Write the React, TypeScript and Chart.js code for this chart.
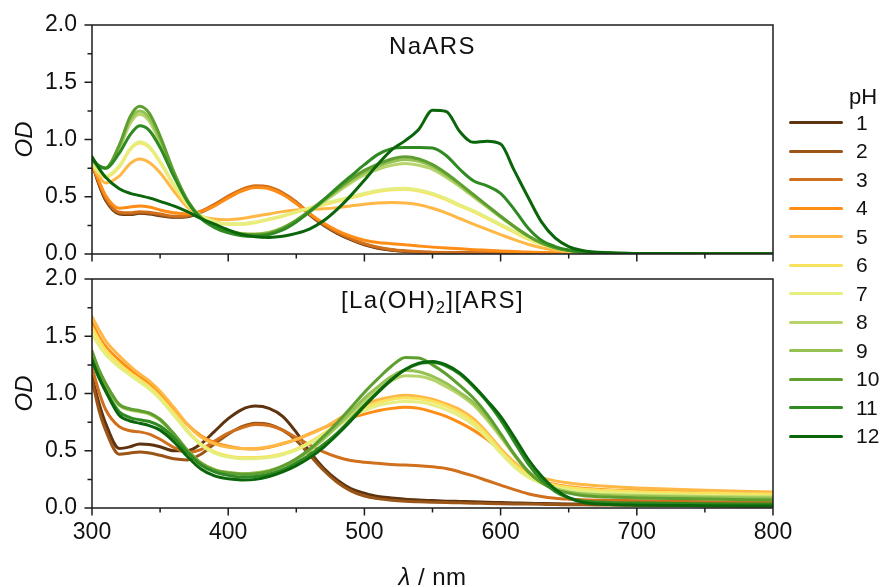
import React, { useEffect, useRef } from 'react';
import { Chart, registerables } from 'chart.js';

Chart.register(...registerables);

// ---------- data ----------
const WAVELENGTHS = [300, 305, 310, 320, 328, 335, 342, 350, 360, 370, 380, 390, 400, 410, 420, 430, 440, 450, 460, 470, 480, 490, 500, 510, 520, 530, 540, 550, 560, 570, 580, 590, 600, 610, 620, 630, 640, 650, 660, 680, 700, 750, 800];

const PH_LABELS = ['1', '2', '3', '4', '5', '6', '7', '8', '9', '10', '11', '12'];
const PH_COLORS = ['#5e3410', '#9b5517', '#d06f1c', '#ff8c14', '#ffb845', '#f9e35e', '#e5ee7e', '#b7d46b', '#96c153', '#5f9e30', '#2f8a22', '#0b650b'];

const X_TICKS_MAJOR = 100;
const Y_TICKS_MAJOR = 0.5;

// NaARS panel
const NAARS_PH1 = [0.79, 0.61, 0.47, 0.35, 0.345, 0.355, 0.35, 0.335, 0.32, 0.325, 0.365, 0.425, 0.495, 0.555, 0.585, 0.575, 0.525, 0.445, 0.34, 0.25, 0.18, 0.125, 0.08, 0.05, 0.032, 0.022, 0.016, 0.012, 0.01, 0.009, 0.008, 0.007, 0.006, 0.006, 0.005, 0.005, 0.005, 0.004, 0.004, 0.004, 0.003, 0.003, 0.003];
const NAARS_PH2 = [0.8, 0.62, 0.48, 0.355, 0.35, 0.36, 0.355, 0.34, 0.325, 0.33, 0.37, 0.43, 0.5, 0.56, 0.59, 0.58, 0.53, 0.45, 0.345, 0.255, 0.185, 0.13, 0.085, 0.055, 0.035, 0.024, 0.018, 0.014, 0.011, 0.01, 0.009, 0.008, 0.007, 0.006, 0.006, 0.005, 0.005, 0.005, 0.004, 0.004, 0.004, 0.003, 0.003];
const NAARS_PH3 = [0.8, 0.63, 0.49, 0.365, 0.36, 0.37, 0.365, 0.35, 0.33, 0.335, 0.375, 0.435, 0.505, 0.565, 0.595, 0.585, 0.535, 0.455, 0.35, 0.26, 0.19, 0.135, 0.09, 0.06, 0.04, 0.028, 0.02, 0.016, 0.013, 0.011, 0.01, 0.009, 0.008, 0.007, 0.006, 0.006, 0.005, 0.005, 0.005, 0.004, 0.004, 0.003, 0.003];
const NAARS_PH4 = [0.79, 0.64, 0.51, 0.4, 0.41, 0.42, 0.41, 0.385, 0.36, 0.35, 0.37, 0.42, 0.49, 0.55, 0.58, 0.57, 0.52, 0.44, 0.35, 0.27, 0.205, 0.155, 0.12, 0.1, 0.09, 0.08, 0.07, 0.06, 0.052, 0.045, 0.038, 0.032, 0.026, 0.021, 0.017, 0.013, 0.01, 0.008, 0.007, 0.005, 0.004, 0.003, 0.003];
const NAARS_PH5 = [0.78, 0.68, 0.62, 0.68, 0.79, 0.83, 0.8, 0.71, 0.55, 0.41, 0.33, 0.305, 0.3, 0.31, 0.33, 0.35, 0.37, 0.385, 0.39, 0.395, 0.405, 0.42, 0.435, 0.445, 0.45, 0.445, 0.43, 0.4, 0.36, 0.31, 0.26, 0.215, 0.17, 0.125, 0.085, 0.055, 0.033, 0.018, 0.01, 0.005, 0.003, 0.002, 0.002];
const NAARS_PH6 = [0.79, 0.71, 0.67, 0.76, 0.91, 0.97, 0.93, 0.8, 0.6, 0.43, 0.33, 0.28, 0.26, 0.26, 0.275, 0.3, 0.33, 0.365, 0.4, 0.43, 0.46, 0.49, 0.52, 0.545, 0.56, 0.565, 0.55, 0.52, 0.475, 0.42, 0.37, 0.31, 0.25, 0.19, 0.13, 0.085, 0.05, 0.028, 0.015, 0.006, 0.003, 0.002, 0.002];
const NAARS_PH7 = [0.79, 0.72, 0.68, 0.77, 0.92, 0.98, 0.94, 0.81, 0.61, 0.435, 0.335, 0.285, 0.265, 0.265, 0.28, 0.305, 0.335, 0.37, 0.405, 0.44, 0.47, 0.5, 0.53, 0.555, 0.57, 0.575, 0.56, 0.53, 0.485, 0.43, 0.38, 0.32, 0.26, 0.2, 0.14, 0.09, 0.053, 0.03, 0.016, 0.007, 0.003, 0.002, 0.002];
const NAARS_PH8 = [0.81, 0.76, 0.75, 0.92, 1.14, 1.22, 1.16, 0.97, 0.69, 0.46, 0.31, 0.24, 0.2, 0.18, 0.175, 0.19, 0.23, 0.29, 0.37, 0.455, 0.54, 0.62, 0.69, 0.74, 0.775, 0.79, 0.775, 0.74, 0.67, 0.59, 0.5, 0.41, 0.32, 0.235, 0.155, 0.095, 0.055, 0.03, 0.016, 0.007, 0.004, 0.002, 0.002];
const NAARS_PH9 = [0.82, 0.77, 0.75, 0.94, 1.17, 1.25, 1.19, 1.0, 0.71, 0.47, 0.315, 0.243, 0.2, 0.178, 0.172, 0.185, 0.228, 0.293, 0.375, 0.465, 0.555, 0.64, 0.71, 0.765, 0.805, 0.825, 0.81, 0.765, 0.69, 0.605, 0.51, 0.42, 0.33, 0.24, 0.16, 0.097, 0.055, 0.03, 0.016, 0.007, 0.004, 0.002, 0.002];
const NAARS_PH10 = [0.83, 0.77, 0.75, 0.95, 1.2, 1.29, 1.23, 1.03, 0.72, 0.47, 0.32, 0.245, 0.2, 0.175, 0.17, 0.18, 0.225, 0.295, 0.38, 0.475, 0.565, 0.655, 0.73, 0.785, 0.83, 0.85, 0.83, 0.78, 0.705, 0.615, 0.52, 0.425, 0.33, 0.24, 0.16, 0.097, 0.055, 0.03, 0.016, 0.007, 0.004, 0.002, 0.002];
const NAARS_PH11 = [0.83, 0.77, 0.75, 0.88, 1.04, 1.12, 1.08, 0.93, 0.68, 0.46, 0.31, 0.23, 0.185, 0.16, 0.155, 0.17, 0.21, 0.28, 0.37, 0.47, 0.58, 0.68, 0.78, 0.87, 0.92, 0.93, 0.93, 0.925, 0.86, 0.74, 0.64, 0.595, 0.53, 0.39, 0.23, 0.12, 0.065, 0.035, 0.018, 0.008, 0.004, 0.002, 0.002];
const NAARS_PH12 = [0.85, 0.75, 0.67, 0.57, 0.53, 0.51, 0.49, 0.46, 0.42, 0.37, 0.31, 0.26, 0.21, 0.17, 0.15, 0.145, 0.155, 0.18, 0.22, 0.29, 0.39, 0.51, 0.645, 0.785, 0.91, 0.99, 1.09, 1.255, 1.245, 1.07, 0.975, 0.985, 0.96, 0.73, 0.5, 0.28, 0.14, 0.065, 0.03, 0.01, 0.005, 0.003, 0.003];

// [La(OH)2][ARS] panel
const LA_PH1 = [1.15, 0.92, 0.74, 0.52, 0.535, 0.56, 0.555, 0.535, 0.5, 0.5, 0.56, 0.67, 0.78, 0.86, 0.89, 0.87, 0.8, 0.66, 0.49, 0.35, 0.245, 0.17, 0.13, 0.1, 0.088, 0.077, 0.07, 0.065, 0.06, 0.057, 0.054, 0.05, 0.047, 0.044, 0.041, 0.039, 0.037, 0.035, 0.033, 0.03, 0.028, 0.024, 0.02];
const LA_PH2 = [1.12, 0.86, 0.68, 0.47, 0.48, 0.49, 0.48, 0.46, 0.43, 0.42, 0.47, 0.56, 0.645, 0.71, 0.74, 0.73, 0.68, 0.59, 0.46, 0.33, 0.225, 0.15, 0.105, 0.082, 0.068, 0.059, 0.054, 0.05, 0.047, 0.045, 0.042, 0.04, 0.038, 0.036, 0.034, 0.032, 0.03, 0.029, 0.028, 0.026, 0.024, 0.02, 0.017];
const LA_PH3 = [1.23, 1.02, 0.86, 0.71, 0.675, 0.665, 0.645, 0.6, 0.53, 0.485, 0.51, 0.585, 0.655, 0.7, 0.73, 0.72, 0.68, 0.615, 0.55, 0.49, 0.445, 0.415, 0.4, 0.39, 0.38, 0.375, 0.37, 0.36, 0.345, 0.315, 0.28, 0.24, 0.2, 0.16, 0.125, 0.1, 0.085, 0.077, 0.072, 0.067, 0.064, 0.055, 0.047];
const LA_PH4 = [1.62, 1.5, 1.41, 1.29, 1.21, 1.15, 1.09, 1.0, 0.87, 0.73, 0.63, 0.57, 0.54, 0.52, 0.515, 0.53, 0.56, 0.6, 0.65, 0.7, 0.75, 0.79, 0.82, 0.85, 0.87, 0.88, 0.87, 0.84, 0.8, 0.745, 0.68, 0.6, 0.5, 0.39, 0.3, 0.24, 0.205, 0.185, 0.172, 0.158, 0.15, 0.135, 0.125];
const LA_PH5 = [1.67, 1.56, 1.46, 1.33, 1.24, 1.17, 1.11, 1.02, 0.88, 0.73, 0.62, 0.56, 0.53, 0.52, 0.52, 0.535, 0.565, 0.6, 0.645, 0.7, 0.77, 0.84, 0.9, 0.945, 0.97, 0.985, 0.975, 0.95, 0.91, 0.86, 0.78, 0.66, 0.52, 0.4, 0.31, 0.265, 0.237, 0.218, 0.205, 0.187, 0.175, 0.155, 0.14];
const LA_PH6 = [1.58, 1.47, 1.38, 1.26, 1.18, 1.12, 1.06, 0.97, 0.83, 0.68, 0.56, 0.49, 0.455, 0.44, 0.44, 0.45, 0.475, 0.515, 0.575, 0.65, 0.73, 0.81, 0.87, 0.92, 0.95, 0.96, 0.955, 0.93, 0.89, 0.835, 0.755, 0.64, 0.5, 0.38, 0.29, 0.235, 0.2, 0.18, 0.167, 0.152, 0.143, 0.13, 0.12];
const LA_PH7 = [1.52, 1.42, 1.34, 1.23, 1.16, 1.1, 1.04, 0.95, 0.81, 0.665, 0.55, 0.48, 0.445, 0.43, 0.43, 0.44, 0.465, 0.505, 0.565, 0.64, 0.715, 0.79, 0.85, 0.895, 0.92, 0.93, 0.925, 0.9, 0.86, 0.805, 0.725, 0.615, 0.48, 0.36, 0.27, 0.215, 0.18, 0.16, 0.147, 0.133, 0.125, 0.11, 0.1];
const LA_PH8 = [1.36, 1.2, 1.08, 0.895, 0.855, 0.84, 0.82, 0.765, 0.645, 0.505, 0.395, 0.335, 0.31, 0.3, 0.305, 0.325, 0.365, 0.425, 0.5, 0.6, 0.71, 0.82, 0.93, 1.03, 1.11, 1.155, 1.15, 1.12, 1.06, 0.99, 0.9, 0.77, 0.62, 0.46, 0.32, 0.225, 0.17, 0.142, 0.127, 0.115, 0.11, 0.1, 0.095];
const LA_PH9 = [1.36, 1.2, 1.08, 0.9, 0.86, 0.845, 0.825, 0.77, 0.645, 0.505, 0.395, 0.335, 0.31, 0.3, 0.305, 0.325, 0.365, 0.425, 0.505, 0.61, 0.72, 0.84, 0.96, 1.06, 1.15, 1.2, 1.19, 1.15, 1.09, 1.01, 0.92, 0.79, 0.635, 0.47, 0.325, 0.225, 0.165, 0.138, 0.122, 0.108, 0.102, 0.092, 0.085];
const LA_PH10 = [1.37, 1.21, 1.09, 0.905, 0.865, 0.85, 0.83, 0.775, 0.65, 0.505, 0.39, 0.33, 0.305, 0.295, 0.3, 0.32, 0.365, 0.43, 0.515, 0.625, 0.745, 0.875, 1.01, 1.13, 1.24, 1.315, 1.31, 1.25, 1.17, 1.07, 0.96, 0.82, 0.65, 0.47, 0.32, 0.22, 0.16, 0.13, 0.11, 0.095, 0.088, 0.078, 0.07];
const LA_PH11 = [1.3, 1.15, 1.03, 0.84, 0.79, 0.77, 0.755, 0.715, 0.615, 0.485, 0.375, 0.315, 0.285, 0.27, 0.275, 0.295, 0.335, 0.395, 0.465, 0.555, 0.655, 0.775, 0.895, 1.015, 1.125, 1.21, 1.26, 1.27, 1.24, 1.17, 1.06, 0.93, 0.77, 0.58, 0.39, 0.245, 0.145, 0.088, 0.062, 0.048, 0.043, 0.038, 0.034];
const LA_PH12 = [1.29, 1.14, 1.02, 0.81, 0.76, 0.74, 0.72, 0.68, 0.58, 0.45, 0.34, 0.28, 0.255, 0.245, 0.25, 0.275, 0.315, 0.37, 0.44, 0.53, 0.64, 0.76, 0.89, 1.01, 1.12, 1.21, 1.265, 1.28, 1.25, 1.18, 1.07, 0.94, 0.8, 0.62, 0.43, 0.28, 0.165, 0.09, 0.05, 0.03, 0.025, 0.02, 0.017];

const NAARS_SERIES = [NAARS_PH1, NAARS_PH2, NAARS_PH3, NAARS_PH4, NAARS_PH5, NAARS_PH6, NAARS_PH7, NAARS_PH8, NAARS_PH9, NAARS_PH10, NAARS_PH11, NAARS_PH12];
const LA_SERIES = [LA_PH1, LA_PH2, LA_PH3, LA_PH4, LA_PH5, LA_PH6, LA_PH7, LA_PH8, LA_PH9, LA_PH10, LA_PH11, LA_PH12];

// ---------- text ----------
type Piece = { text: string; size?: number; italic?: boolean; dy?: number };
const TOP_TITLE: Piece[] = [{ text: 'NaARS' }];
const BOTTOM_TITLE: Piece[] = [{ text: '[La(OH)' }, { text: '2', size: 16, dy: 5 }, { text: '][ARS]' }];
const X_TITLE: Piece[] = [{ text: 'λ', italic: true }, { text: ' / nm' }];
const Y_TITLE = 'OD';
const LEGEND_TITLE = 'pH';

// ---------- style ----------
const FONT = '"Liberation Sans", Arial, Helvetica, sans-serif';
const AXIS_COLOR = '#1c1c1c';
const TEXT_COLOR = '#111111';
const W = 881;
const PLOT_LEFT = 92;
const PLOT_RIGHT = 773;

function drawPieces(ctx: CanvasRenderingContext2D, pieces: Piece[], cx: number, baseline: number, baseSize: number, spacing: number) {
  const c: any = ctx;
  if ('letterSpacing' in c) c.letterSpacing = `${spacing}px`;
  const fontOf = (p: Piece) => `${p.italic ? 'italic ' : ''}${p.size || baseSize}px ${FONT}`;
  const widths = pieces.map((p) => {
    ctx.font = fontOf(p);
    return ctx.measureText(p.text).width;
  });
  const total = widths.reduce((a, b) => a + b, 0);
  let x = cx - total / 2;
  pieces.forEach((p, i) => {
    ctx.font = fontOf(p);
    ctx.fillText(p.text, x, baseline + (p.dy || 0));
    x += widths[i];
  });
  if ('letterSpacing' in c) c.letterSpacing = '0px';
}

const isMultiple = (v: number, step: number) => Math.abs(v / step - Math.round(v / step)) < 1e-6;

function decorPlugin(title: Piece[], xTitle: Piece[] | null) {
  return {
    id: 'panelDecor',
    afterDraw(chart: any) {
      const { ctx, chartArea } = chart;
      const { left, right, top, bottom } = chartArea;
      const xs = chart.scales.x;
      const ys = chart.scales.y;
      ctx.save();
      ctx.strokeStyle = AXIS_COLOR;
      ctx.lineWidth = 1.5;
      ctx.beginPath();
      ctx.rect(left, top, right - left, bottom - top);
      xs.ticks.forEach((t: any) => {
        const px = xs.getPixelForValue(t.value);
        const len = isMultiple(t.value, X_TICKS_MAJOR) ? 7.5 : 4.5;
        ctx.moveTo(px, bottom);
        ctx.lineTo(px, bottom + len);
      });
      ys.ticks.forEach((t: any) => {
        const py = ys.getPixelForValue(t.value);
        const len = isMultiple(t.value, Y_TICKS_MAJOR) ? 7.5 : 4.5;
        ctx.moveTo(left, py);
        ctx.lineTo(left - len, py);
      });
      ctx.stroke();
      ctx.fillStyle = TEXT_COLOR;
      ctx.textAlign = 'left';
      ctx.textBaseline = 'alphabetic';
      drawPieces(ctx, title, (left + right) / 2, top + 28.5, 24, 1.4);
      if (xTitle) drawPieces(ctx, xTitle, (left + right) / 2, chart.height - 2, 24, 0.5);
      ctx.restore();
    },
  };
}

function makeConfig(series: number[][], isBottom: boolean, height: number, plotTop: number, plotBottom: number) {
  const tickFont = { family: FONT, size: 23 };
  return {
    type: 'line',
    data: {
      datasets: series.map((vals, i) => ({
        label: `pH ${PH_LABELS[i]}`,
        data: WAVELENGTHS.map((x, j) => ({ x, y: vals[j] })),
        borderColor: PH_COLORS[i],
        backgroundColor: PH_COLORS[i],
        borderWidth: 3,
        pointRadius: 0,
        pointHoverRadius: 0,
        fill: false,
        cubicInterpolationMode: 'monotone',
        borderCapStyle: 'round',
        borderJoinStyle: 'round',
        order: 11 - i,
      })),
    },
    options: {
      animation: false,
      responsive: false,
      maintainAspectRatio: false,
      devicePixelRatio: 1,
      events: [],
      layout: { padding: { left: 0, right: W - PLOT_RIGHT, top: plotTop, bottom: 0 } },
      plugins: { legend: { display: false }, tooltip: { enabled: false }, title: { display: false } },
      scales: {
        x: {
          type: 'linear',
          min: 300,
          max: 800,
          grid: { display: false, drawTicks: false },
          border: { display: false },
          ticks: {
            display: isBottom,
            stepSize: 50,
            autoSkip: false,
            maxRotation: 0,
            padding: 11,
            color: TEXT_COLOR,
            font: tickFont,
            callback: (v: number) => (isMultiple(v, X_TICKS_MAJOR) ? String(v) : ''),
          },
          afterFit: (s: any) => {
            s.height = height - plotBottom;
            s.paddingLeft = 0;
            s.paddingRight = 0;
            s.paddingTop = 0;
            s.paddingBottom = 0;
          },
        },
        y: {
          type: 'linear',
          min: 0,
          max: 2,
          grid: { display: false, drawTicks: false },
          border: { display: false },
          title: {
            display: true,
            text: Y_TITLE,
            color: TEXT_COLOR,
            font: { family: FONT, size: 24, style: 'italic' },
            padding: { top: 11, bottom: 0 },
          },
          ticks: {
            stepSize: 0.25,
            autoSkip: false,
            padding: 15,
            color: TEXT_COLOR,
            font: tickFont,
            callback: (v: number) => (isMultiple(v, Y_TICKS_MAJOR) ? v.toFixed(1) : ''),
          },
          afterFit: (s: any) => {
            s.width = PLOT_LEFT;
            s.paddingTop = 0;
            s.paddingBottom = 0;
            s.paddingLeft = 0;
            s.paddingRight = 0;
          },
        },
      },
    },
    plugins: [decorPlugin(isBottom ? BOTTOM_TITLE : TOP_TITLE, isBottom ? X_TITLE : null)],
  };
}

const TOP_H = 266;
const BOTTOM_OFFSET = 262;
const BOTTOM_H = 325;

export default function App() {
  const topRef = useRef<HTMLCanvasElement | null>(null);
  const botRef = useRef<HTMLCanvasElement | null>(null);

  useEffect(() => {
    Chart.defaults.font.family = FONT;
    const c1 = new Chart(topRef.current as HTMLCanvasElement, makeConfig(NAARS_SERIES, false, TOP_H, 25, 254) as any);
    const c2 = new Chart(botRef.current as HTMLCanvasElement, makeConfig(LA_SERIES, true, BOTTOM_H, 279 - BOTTOM_OFFSET, 508 - BOTTOM_OFFSET) as any);
    return () => {
      c1.destroy();
      c2.destroy();
    };
  }, []);

  const legendY0 = 122.7;
  const legendStep = 28.5;

  return (
    <div style={{ position: 'fixed', left: 0, top: 0, width: W, height: 587, background: '#ffffff', overflow: 'hidden' }}>
      <canvas ref={topRef} width={W} height={TOP_H} style={{ position: 'absolute', left: 0, top: 0, width: W, height: TOP_H }} />
      <canvas ref={botRef} width={W} height={BOTTOM_H} style={{ position: 'absolute', left: 0, top: BOTTOM_OFFSET, width: W, height: BOTTOM_H }} />
      <div
        style={{
          position: 'absolute',
          left: 849,
          top: 96.5 - 12,
          font: `22px ${FONT}`,
          lineHeight: '24px',
          color: TEXT_COLOR,
          whiteSpace: 'nowrap',
        }}
      >
        {LEGEND_TITLE}
      </div>
      {PH_LABELS.map((lab, i) => {
        const y = legendY0 + legendStep * i;
        return (
          <React.Fragment key={lab}>
            <div
              style={{
                position: 'absolute',
                left: 789,
                top: y - 1.6,
                width: 54,
                height: 3.2,
                borderRadius: 1.6,
                background: PH_COLORS[i],
              }}
            />
            <div
              style={{
                position: 'absolute',
                left: 856,
                top: y - 11.75,
                font: `21px ${FONT}`,
                lineHeight: '24px',
                color: TEXT_COLOR,
                whiteSpace: 'nowrap',
              }}
            >
              {lab}
            </div>
          </React.Fragment>
        );
      })}
    </div>
  );
}
